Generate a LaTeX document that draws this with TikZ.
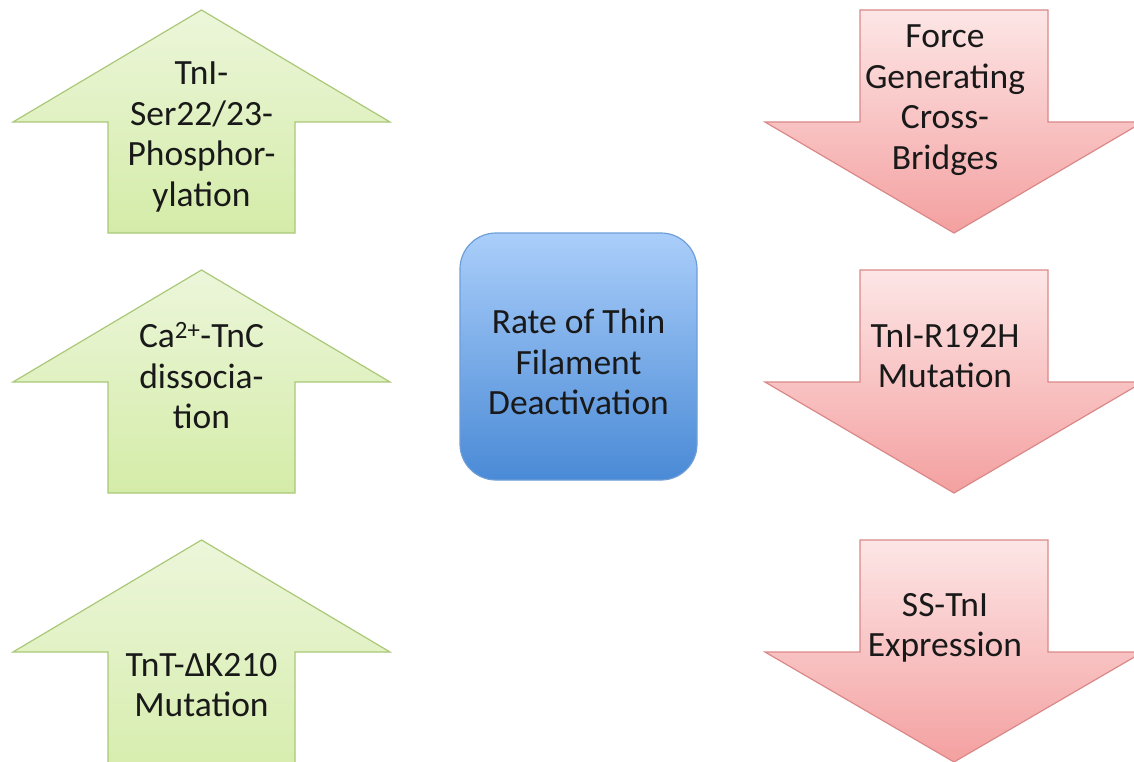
\documentclass[tikz,border=0pt]{standalone}
\usepackage{fontspec}
\setmainfont{Carlito}
\begin{document}
\begin{tikzpicture}[x=1pt,y=-1pt,
  uparrow/.style={top color=upT,bottom color=upB,draw=upD,line width=1.2pt,line join=miter},
  dnarrow/.style={top color=dnT,bottom color=dnB,draw=dnD,line width=1.2pt,line join=miter},
  lbl/.style={align=center,font=\fontsize{35.5}{40.5}\selectfont,text=black!90,inner sep=0pt}]
\definecolor{upT}{RGB}{236,246,218}
\definecolor{upB}{RGB}{212,236,168}
\definecolor{upD}{RGB}{170,200,120}
\definecolor{dnT}{RGB}{253,230,230}
\definecolor{dnB}{RGB}{244,160,160}
\definecolor{dnD}{RGB}{218,136,136}
\definecolor{bxT}{RGB}{170,206,250}
\definecolor{bxB}{RGB}{74,138,214}
\definecolor{bxD}{RGB}{110,158,216}
\useasboundingbox (0,0) rectangle (1134,762);
% up arrows (left)
\foreach \t/\b in {10/233, 270/493, 540/800}{
  \shade[uparrow] (201.5,\t) -- (390,\t+112) -- (295,\t+112) -- (295,\b) -- (108,\b) -- (108,\t+112) -- (13,\t+112) -- cycle;
}
% down arrows (right)
\foreach \t/\b in {10/233, 270/493, 540/762}{
  \shade[dnarrow] (860,\t) -- (1048,\t) -- (1048,\t+112) -- (1143,\t+112) -- (954,\b) -- (765,\t+112) -- (860,\t+112) -- cycle;
}
% central box
\shade[top color=bxT,bottom color=bxB,draw=bxD,line width=1.2pt,rounded corners=36pt] (460,233) rectangle (697,480);
% labels
\node[lbl] (u1) at (201.5,137) {TnI-\\Ser22/23-\\Phosphor-\\ylation};
\node[lbl] (u2) at (201.5,376) {Ca\textsuperscript{2+}-TnC\\dissocia-\\tion};
\node[lbl] (u3) at (201.5,685) {TnT-ΔK210\\Mutation};
\node[lbl] (c) at (578.5,362) {Rate of Thin\\Filament\\Deactivation};
\node[lbl] (d1) at (945,100) {Force\\Generating\\Cross-\\Bridges};
\node[lbl] (d2) at (945,356) {TnI-R192H\\Mutation};
\node[lbl] (d3) at (945,628) {SS-TnI\\Expression};
\end{tikzpicture}
\end{document}
